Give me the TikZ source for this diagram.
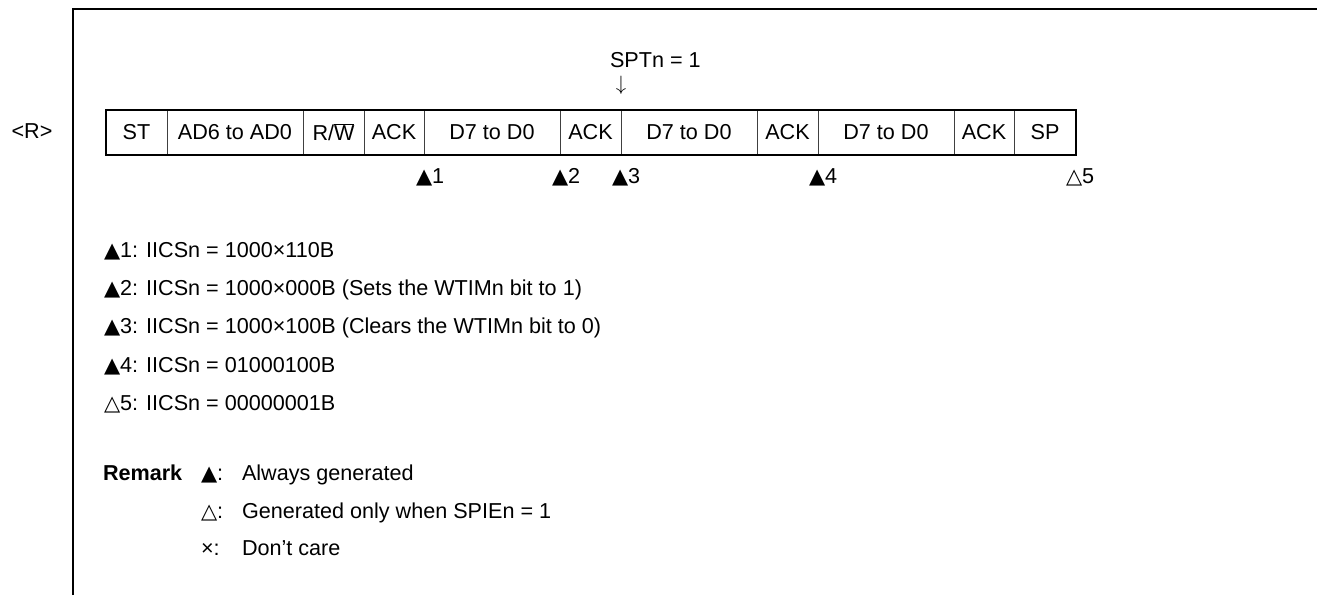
\documentclass[tikz,border=0pt]{standalone}
\usepackage{fontspec}
\setmainfont{Liberation Sans}
\newfontfamily\symf{DejaVu Sans}
\newcommand{\fs}{\fontsize{21.6}{25}\selectfont}
\newcommand{\bt}{{\symf\fontsize{21}{21}\selectfont ▲}}
\newcommand{\wt}{{\symf\fontsize{21}{21}\selectfont △}}
\begin{document}
\begin{tikzpicture}[x=1pt,y=-1pt,
  every node/.style={font=\fs, inner sep=0pt, outer sep=0pt},
  cell/.style={draw=black!75, line width=0.9pt, minimum height=45pt, anchor=north west},
  frame/.style={line width=2pt},
  lbl/.style={anchor=base west}]
\useasboundingbox (0,0) rectangle (1317,595);
% frame
\coordinate (fbl) at (73,595);
\coordinate (ftl) at (73,9);
\coordinate (ftr) at (1317,9);
\draw[frame] (fbl) -- (ftl) -- (ftr);
\node (r) at (32,131) {<R>};
% cells
\node[cell, minimum width=61pt]  (c1)  at (106,110) {ST};
\node[cell, minimum width=136pt] (c2)  at (167,110) {AD6 to AD0};
\node[cell, minimum width=61pt]  (c3)  at (303,110) {R/$\overline{\mbox{W}}$};
\node[cell, minimum width=60pt]  (c4)  at (364,110) {ACK};
\node[cell, minimum width=136pt] (c5)  at (424,110) {D7 to D0};
\node[cell, minimum width=61pt]  (c6)  at (560,110) {ACK};
\node[cell, minimum width=136pt] (c7)  at (621,110) {D7 to D0};
\node[cell, minimum width=61pt]  (c8)  at (757,110) {ACK};
\node[cell, minimum width=136pt] (c9)  at (818,110) {D7 to D0};
\node[cell, minimum width=60pt]  (c10) at (954,110) {ACK};
\node[cell, minimum width=62pt]  (c11) at (1014,110) {SP};
\draw[frame] (c1.north west) rectangle (c11.south east);
% SPTn
\node[lbl] (spt) at (610,67) {SPTn = 1};
\node (arr) at (621,85) {$\downarrow$};
% markers
\node[lbl] (m1) at (416,183) {\bt1};
\node[lbl] (m2) at (552,183) {\bt2};
\node[lbl] (m3) at (612,183) {\bt3};
\node[lbl] (m4) at (809,183) {\bt4};
\node[lbl] (m5) at (1066,183) {\wt5};
% list
\node[lbl] (l1) at (104,257) {\bt1: IICSn = 1000×110B};
\node[lbl] (l2) at (104,295) {\bt2: IICSn = 1000×000B (Sets the WTIMn bit to 1)};
\node[lbl] (l3) at (104,333) {\bt3: IICSn = 1000×100B (Clears the WTIMn bit to 0)};
\node[lbl] (l4) at (104,372) {\bt4: IICSn = 01000100B};
\node[lbl] (l5) at (104,410) {\wt5: IICSn = 00000001B};
% remark
\node[lbl] (rm) at (103,480) {\textbf{Remark}};
\node[lbl] (s1) at (201,480) {\bt:};
\node[lbl] (t1) at (242,480) {Always generated};
\node[lbl] (s2) at (201,518) {\wt:};
\node[lbl] (t2) at (242,518) {Generated only when SPIEn = 1};
\node[lbl] (s3) at (201,555) {×:};
\node[lbl] (t3) at (242,555) {Don’t care};
\end{tikzpicture}
\end{document}
